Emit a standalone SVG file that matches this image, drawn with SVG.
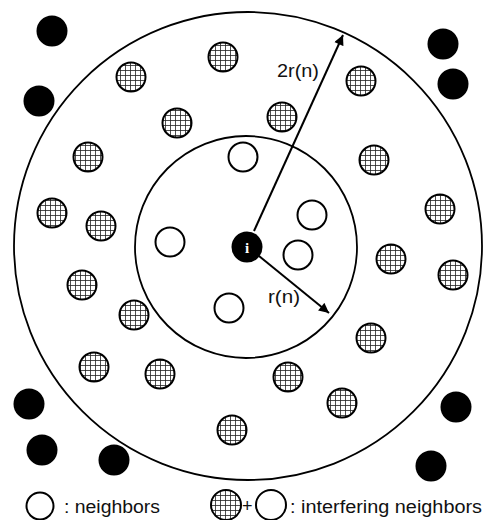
<svg xmlns="http://www.w3.org/2000/svg" width="488" height="520" viewBox="0 0 488 520">
<defs>
<pattern id="grid" patternUnits="userSpaceOnUse" width="5" height="5">
<rect width="5" height="5" fill="#fff"/>
<path d="M0 0.5H5M0.5 0V5" stroke="#222" stroke-width="0.8" fill="none"/>
</pattern>
<marker id="ah" viewBox="0 0 10 10" refX="10" refY="5" markerWidth="11" markerHeight="10" markerUnits="userSpaceOnUse" orient="auto">
<path d="M0 0L10 5L0 10Z" fill="#000"/>
</marker>
</defs>
<style>
.ring{fill:none;stroke:#000;stroke-width:1.8}
.hat{fill:url(#grid);stroke:#000;stroke-width:2}
.open{fill:#fff;stroke:#000;stroke-width:2}
.far{fill:#000}
.lbl{font-family:"Liberation Sans",Arial,sans-serif;font-size:18px;fill:#111}
.conn{stroke:#000;stroke-width:2;fill:none;marker-end:url(#ah)}
</style>
<rect width="488" height="520" fill="#fff"/>
<g id="outer-range"><circle class="ring" cx="248" cy="246" r="234"/></g>
<g id="inner-range"><circle class="ring" cx="246" cy="247" r="111"/></g>
<g id="far-nodes">
<circle class="far" id="f1" cx="52" cy="31" r="15.5"/>
<circle class="far" id="f2" cx="39" cy="101" r="15.5"/>
<circle class="far" id="f3" cx="443" cy="44" r="15.5"/>
<circle class="far" id="f4" cx="453" cy="84" r="15.5"/>
<circle class="far" id="f5" cx="29" cy="404" r="15.5"/>
<circle class="far" id="f6" cx="42" cy="450" r="15.5"/>
<circle class="far" id="f7" cx="114" cy="460" r="15.5"/>
<circle class="far" id="f8" cx="456" cy="407" r="15.5"/>
<circle class="far" id="f9" cx="431" cy="466" r="15.5"/>
</g>
<g id="interfering-nodes">
<circle class="hat" cx="223" cy="57" r="14.5"/>
<circle class="hat" cx="131" cy="77" r="14.5"/>
<circle class="hat" cx="361" cy="81" r="14.5"/>
<circle class="hat" cx="177" cy="123" r="14.5"/>
<circle class="hat" cx="282" cy="117" r="14.5"/>
<circle class="hat" cx="88" cy="157" r="14.5"/>
<circle class="hat" cx="374" cy="160" r="14.5"/>
<circle class="hat" cx="52" cy="213" r="14.5"/>
<circle class="hat" cx="101" cy="226" r="14.5"/>
<circle class="hat" cx="440" cy="209" r="14.5"/>
<circle class="hat" cx="391" cy="259" r="14.5"/>
<circle class="hat" cx="453" cy="275" r="14.5"/>
<circle class="hat" cx="82" cy="285" r="14.5"/>
<circle class="hat" cx="134" cy="315" r="14.5"/>
<circle class="hat" cx="371" cy="338" r="14.5"/>
<circle class="hat" cx="94" cy="367" r="14.5"/>
<circle class="hat" cx="160" cy="374" r="14.5"/>
<circle class="hat" cx="288" cy="377" r="14.5"/>
<circle class="hat" cx="342" cy="403" r="14.5"/>
<circle class="hat" cx="232" cy="430" r="14.5"/>
</g>
<g id="neighbor-nodes">
<circle class="open" cx="243" cy="157" r="14.5"/>
<circle class="open" cx="312" cy="215" r="14.5"/>
<circle class="open" cx="170" cy="242" r="14.5"/>
<circle class="open" cx="298" cy="255" r="14.5"/>
<circle class="open" cx="229" cy="308" r="14.5"/>
</g>
<g id="connectors">
<line class="conn" x1="254" y1="231" x2="343" y2="35"/>
<line class="conn" x1="259" y1="256" x2="329" y2="313"/>
</g>
<g id="labels">
<text class="lbl" x="277" y="77" textLength="42" lengthAdjust="spacingAndGlyphs">2r(n)</text>
<text class="lbl" x="268" y="303" textLength="32" lengthAdjust="spacingAndGlyphs">r(n)</text>
</g>
<g id="node-i">
<circle cx="247" cy="247" r="15.5" fill="#000"/>
<text x="247" y="253" text-anchor="middle" font-family="Liberation Serif,serif" font-size="15" font-weight="bold" fill="#fff">i</text>
</g>
<g id="legend">
<circle class="open" cx="40" cy="506" r="13.5"/>
<text class="lbl" x="64" y="513" font-size="21" textLength="96" lengthAdjust="spacingAndGlyphs">: neighbors</text>
<circle class="hat" cx="226" cy="505" r="15"/>
<text class="lbl" x="242" y="512" font-size="19">+</text>
<circle class="open" cx="271" cy="505" r="15"/>
<text class="lbl" x="290" y="513" font-size="21" textLength="192" lengthAdjust="spacingAndGlyphs">: interfering neighbors</text>
</g>
</svg>
